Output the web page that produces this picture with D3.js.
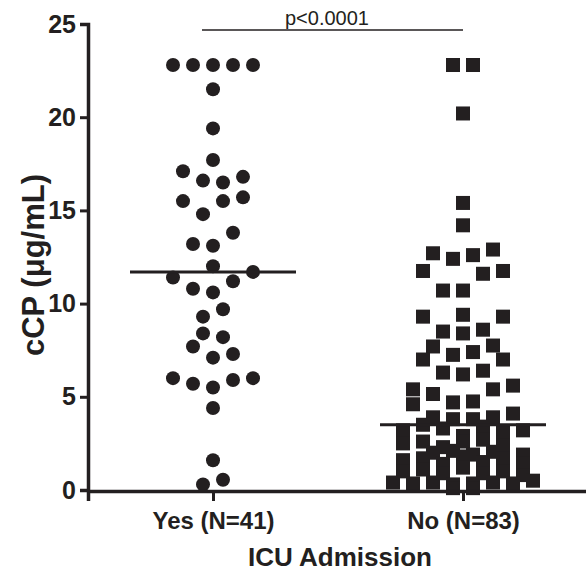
<!DOCTYPE html>
<html>
<head>
<meta charset="utf-8">
<script src="https://cdn.jsdelivr.net/npm/d3@7"></script>
<style>
  body { margin: 0; background: #fff; }
  text { font-family: Arial, "Liberation Sans", Helvetica, sans-serif; fill: #231f20; }
</style>
</head>
<body>
<div id="chart"></div>
<script>
const width = 586;
const height = 574;
const margin = { top: 24, right: -2, bottom: 84, left: 88 };
const ink = "#231f20";

// categories and tick labels
const groups = ["Yes (N=41)", "No (N=83)"];
const yTicks = [0, 5, 10, 15, 20, 25];
const pLabel = "p<0.0001";

// values per group, listed row by row (left to right) as drawn in the scatter
const yesRows = [
  [22.8, 22.8, 22.8, 22.8, 22.8],
  [21.5],
  [19.4],
  [17.7],
  [17.1, 16.6, 16.5, 16.8],
  [15.5, 14.8, 15.5, 15.7],
  [13.2, 13.1, 13.8],
  [12.0],
  [11.4, 10.8, 10.6, 11.2, 11.7],
  [9.3, 9.7],
  [8.4, 8.2],
  [7.7, 7.1, 7.3],
  [6.0, 5.7, 5.5, 5.9, 6.0],
  [4.4],
  [1.6],
  [0.3, 0.55]
];

const noRows = [
  [22.8, 22.8],
  [20.2],
  [15.4],
  [14.2],
  [12.7, 12.4, 12.6, 12.9],
  [11.75, 10.7, 10.7, 11.6, 11.75],
  [9.3, 8.5, 9.4, 8.6, 9.3],
  [8.4],
  [7.7, 7.25, 7.4, 7.75],
  [7.0, 6.3, 6.2, 6.4, 7.0],
  [5.4, 5.15, 4.7, 4.75, 5.4, 5.6],
  [4.6, 3.9, 3.8, 3.8, 3.9, 4.1],
  [3.2, 3.5, 3.3, 2.9, 3.4, 3.1, 3.2],
  [2.5, 2.6, 2.3, 2.6, 2.7, 2.4, 1.9],
  [2.0, 2.1, 1.9, 2.05],
  [1.6, 1.7, 1.4, 1.8, 1.5, 1.7, 1.4],
  [1.0, 1.1, 0.9, 1.2, 0.9, 1.0, 0.8],
  [0.4, 0.35, 0.4, 0.3, 0.35, 0.4, 0.35, 0.5],
  [0.1, 0.1]
];

const svg = d3.select("#chart")
  .append("svg")
  .attr("width", width)
  .attr("height", height);

const x = d3.scalePoint()
  .domain(groups)
  .range([margin.left, width - margin.right])
  .padding(0.5);

const y = d3.scaleLinear()
  .domain([0, 25])
  .range([height - margin.bottom, margin.top]);

const spacing = 20; // horizontal step between neighbours in a row
const sym = 14;     // symbol size

function layout(rows, group) {
  const pts = [];
  rows.forEach(row => {
    row.forEach((v, i) => {
      pts.push({ v, cx: x(group) + (i - (row.length - 1) / 2) * spacing });
    });
  });
  return pts;
}

const yesPts = layout(yesRows, groups[0]);
const noPts = layout(noRows, groups[1]);

// circles for Yes
svg.append("g").selectAll("circle")
  .data(yesPts)
  .join("circle")
  .attr("cx", d => d.cx)
  .attr("cy", d => y(d.v))
  .attr("r", sym / 2)
  .attr("fill", ink);

// squares for No
svg.append("g").selectAll("rect")
  .data(noPts)
  .join("rect")
  .attr("x", d => d.cx - sym / 2)
  .attr("y", d => y(d.v) - sym / 2)
  .attr("width", sym)
  .attr("height", sym)
  .attr("fill", ink);

// median lines
[[yesRows, groups[0]], [noRows, groups[1]]].forEach(([rows, g]) => {
  const med = d3.median(rows.flat());
  svg.append("line")
    .attr("x1", x(g) - 83)
    .attr("x2", x(g) + 83)
    .attr("y1", y(med))
    .attr("y2", y(med))
    .attr("stroke", ink)
    .attr("stroke-width", 3);
});

// axes
const xAxis = svg.append("g")
  .attr("transform", `translate(0,${y(0) + 1})`)
  .call(d3.axisBottom(x).tickSizeOuter(0).tickSize(10).tickPadding(8));
xAxis.select(".domain").attr("stroke", ink).attr("stroke-width", 3.5);
xAxis.selectAll(".tick line").attr("stroke", ink).attr("stroke-width", 3);
xAxis.selectAll(".tick text")
  .attr("font-size", "24px")
  .attr("font-weight", "bold")
  .attr("fill", ink)
  .attr("dy", "0.85em");

const yAxis = svg.append("g")
  .attr("transform", `translate(${margin.left},0)`)
  .call(d3.axisLeft(y).tickValues(yTicks).tickSizeOuter(0).tickSize(8).tickPadding(4));
yAxis.select(".domain").attr("stroke", ink).attr("stroke-width", 3.5);
yAxis.selectAll(".tick line").attr("stroke", ink).attr("stroke-width", 3);
yAxis.selectAll(".tick text")
  .attr("font-size", "25px")
  .attr("font-weight", "bold")
  .attr("fill", ink);

// significance bar
svg.append("line")
  .attr("x1", 202)
  .attr("x2", x(groups[1]))
  .attr("y1", 30)
  .attr("y2", 30)
  .attr("stroke", ink)
  .attr("stroke-width", 1.5);

svg.append("text")
  .attr("x", 327)
  .attr("y", 25)
  .attr("text-anchor", "middle")
  .attr("font-size", "20px")
  .text(pLabel);

// axis titles
svg.append("text")
  .attr("x", 340)
  .attr("y", 566)
  .attr("text-anchor", "middle")
  .attr("font-size", "26px")
  .attr("font-weight", "bold")
  .text("ICU Admission");

svg.append("text")
  .attr("transform", "rotate(-90)")
  .attr("x", -265)
  .attr("y", 44)
  .attr("text-anchor", "middle")
  .attr("font-size", "31px")
  .attr("font-weight", "bold")
  .text("cCP (\u03bcg/mL)");
</script>
</body>
</html>
